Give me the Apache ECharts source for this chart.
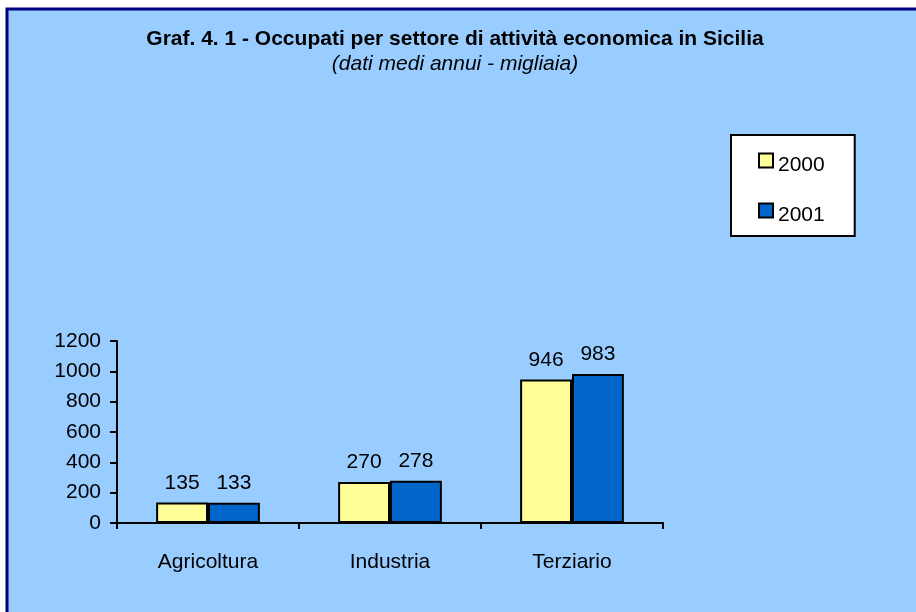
<!DOCTYPE html>
<html lang="it">

<head>
    <meta charset="utf-8">
    <title>Occupati Sicilia</title>
    <style>
        body {
            margin: 0;
            background-color: #ffffff;
        }
    </style>
</head>

<body>
    <div id="main" style="width: 916px;height:612px;"></div>
    <script src="https://cdn.jsdelivr.net/npm/echarts@6/dist/echarts.min.js"></script>

    <script>
        var categories = ['Agricoltura', 'Industria', 'Terziario'];
        var seriesNames = ['2000', '2001'];
        var values2000 = [135, 270, 946];
        var values2001 = [133, 278, 983];
        var yTicks = [0, 200, 400, 600, 800, 1000, 1200];

        var myChart = echarts.init(document.getElementById('main'));
        var font = 'Liberation Sans, Arial, sans-serif';

        option = {
            backgroundColor: '#ffffff',
            animation: false,
            graphic: [{
                type: 'rect',
                z: -10,
                shape: { x: 7, y: 9, width: 940, height: 640 },
                style: { fill: '#99ccff', stroke: '#000080', lineWidth: 3 }
            }],
            title: {
                text: 'Graf. 4. 1 - Occupati per settore di attività economica in Sicilia',
                subtext: '(dati medi annui - migliaia)',
                left: 450,
                textAlign: 'center',
                top: 24,
                itemGap: 4,
                textStyle: {
                    fontFamily: font,
                    fontSize: 21,
                    fontWeight: 'bold',
                    color: '#000000'
                },
                subtextStyle: {
                    fontFamily: font,
                    fontSize: 21,
                    fontStyle: 'italic',
                    color: '#000000'
                }
            },
            legend: {
                orient: 'vertical',
                left: 731,
                top: 135,
                data: seriesNames,
                backgroundColor: '#ffffff',
                borderColor: '#000000',
                borderWidth: 2,
                padding: [10, 30, 10, 27],
                itemGap: 19,
                itemWidth: 14,
                itemHeight: 14,
                icon: 'rect',
                formatter: '{a|{name}}',
                textStyle: {
                    fontFamily: font,
                    fontSize: 21,
                    color: '#000000',
                    rich: {
                        a: {
                            fontFamily: font,
                            fontSize: 21,
                            lineHeight: 21,
                            color: '#000000',
                            padding: [10, 0, 0, 0]
                        }
                    }
                }
            },
            grid: {
                left: 117,
                right: 253,
                top: 341,
                bottom: 89,
                containLabel: false
            },
            xAxis: {
                type: 'category',
                data: categories,
                axisLine: { lineStyle: { color: '#000000', width: 2 } },
                axisTick: { show: true, length: 6, lineStyle: { color: '#000000', width: 2 } },
                axisLabel: {
                    fontFamily: font,
                    fontSize: 21,
                    color: '#000000',
                    margin: 29
                }
            },
            yAxis: {
                type: 'value',
                min: yTicks[0],
                max: yTicks[yTicks.length - 1],
                interval: 200,
                splitLine: { show: false },
                axisLine: { show: true, lineStyle: { color: '#000000', width: 2 } },
                axisTick: { show: true, length: 7, lineStyle: { color: '#000000', width: 2 } },
                axisLabel: {
                    fontFamily: font,
                    fontSize: 21,
                    color: '#000000',
                    margin: 16,
                    formatter: function (v) {
                        return String(v);
                    }
                }
            },
            series: [{
                    name: seriesNames[0],
                    type: 'bar',
                    data: values2000,
                    barGap: '0%',
                    barCategoryGap: '43%',
                    itemStyle: {
                        color: '#ffff99',
                        borderColor: '#000000',
                        borderWidth: 2
                    },
                    label: {
                        show: true,
                        position: 'top',
                        distance: 9,
                        fontFamily: font,
                        fontSize: 21,
                        color: '#000000'
                    }
                },
                {
                    name: seriesNames[1],
                    type: 'bar',
                    data: values2001,
                    itemStyle: {
                        color: '#0066cc',
                        borderColor: '#000000',
                        borderWidth: 2
                    },
                    label: {
                        show: true,
                        position: 'top',
                        distance: 9,
                        fontFamily: font,
                        fontSize: 21,
                        color: '#000000'
                    }
                }
            ]
        };

        myChart.setOption(option);
    </script>
</body>

</html>
